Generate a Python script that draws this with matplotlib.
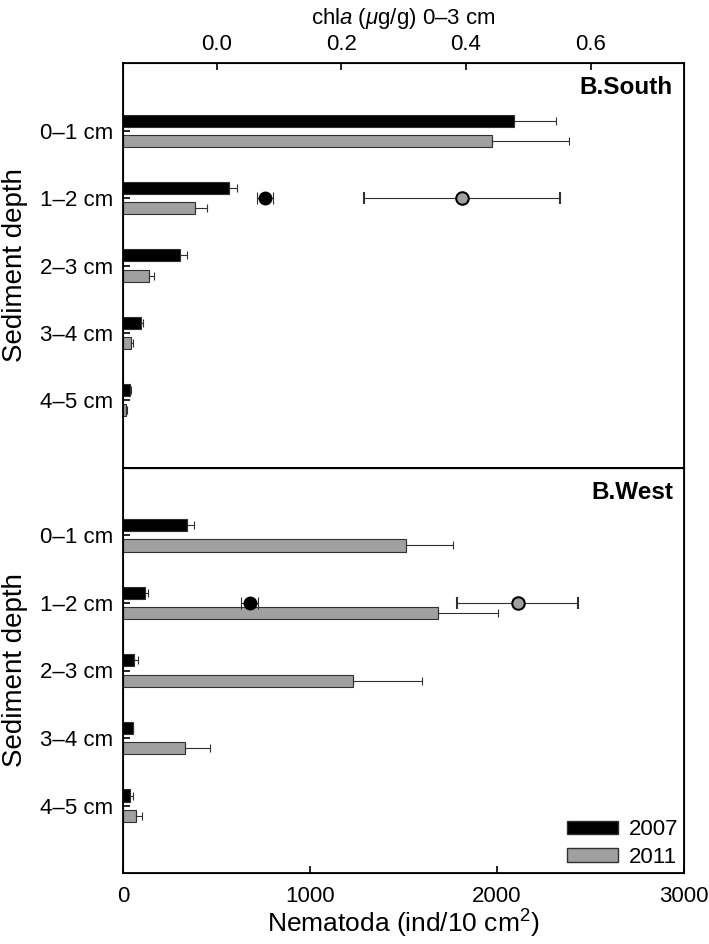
import numpy as np
import matplotlib.pyplot as plt
from matplotlib.patches import Patch

plt.rcParams['font.family'] = ['Liberation Sans', 'DejaVu Sans']
plt.rcParams['mathtext.fontset'] = 'custom'
plt.rcParams['mathtext.rm'] = 'Liberation Sans'
plt.rcParams['mathtext.it'] = 'Liberation Sans:italic'

depths = ['0\u20131 cm', '1\u20132 cm', '2\u20133 cm', '3\u20134 cm', '4\u20135 cm']

# Nematoda density (ind/10 cm2), mean and sd
south_2007 = [2091, 565, 307, 97, 39]
south_2007_sd = [225, 44, 33, 11, 4]
south_2011 = [1975, 383, 139, 44, 18]
south_2011_sd = [412, 66, 27, 9, 3]

west_2007 = [340, 115, 60, 52, 35]
west_2007_sd = [39, 20, 18, 4, 18]
west_2011 = [1514, 1682, 1231, 333, 68]
west_2011_sd = [253, 326, 366, 133, 32]

# chl a (ug/g) 0-3 cm, mean and sd
chla_south = [0.078, 0.394]
chla_south_sd = [0.013, 0.157]
chla_west = [0.053, 0.483]
chla_west_sd = [0.014, 0.097]

c2007 = 'black'
c2011 = '#a0a0a0'
edge = '#303030'
tick_fs = 16
label_fs = 20

fig = plt.figure(figsize=(7.09, 9.44), dpi=100)
L, R = 123 / 709, 684 / 709
ax1 = fig.add_axes([L, 1 - 467.7 / 944, R - L, (467.7 - 63.3) / 944])
ax2 = fig.add_axes([L, 1 - 873.3 / 944, R - L, (873.3 - 467.7) / 944])

y = np.arange(len(depths))
h = 0.18
off = 0.15


def panel(ax, v07, sd07, v11, sd11, chla, chla_sd, name, top_labels):
    zeros = [0] * len(depths)
    ekw = dict(ecolor=edge, elinewidth=0.8, capsize=3.2, capthick=0.8)
    ax.barh(y - off, v07, height=h, color=c2007, edgecolor=edge, linewidth=0.8,
            xerr=[zeros, sd07], error_kw=ekw, label='2007')
    ax.barh(y + off, v11, height=h, color=c2011, edgecolor=edge, linewidth=0.8,
            xerr=[zeros, sd11], error_kw=ekw, label='2011')
    ax.set_xlim(0, 3000)
    ax.set_ylim(5, -1)
    ax.set_yticks(y)
    ax.set_yticklabels(depths, fontsize=tick_fs)
    ax.set_ylabel('Sediment depth', fontsize=label_fs, labelpad=9)
    ax.tick_params(axis='y', direction='in', length=5, width=1.2, pad=7)
    for s in ax.spines.values():
        s.set_linewidth(1.3)
    ax.text(0.98, 0.94, name, transform=ax.transAxes, ha='right', va='center',
            fontsize=17.5, fontweight='bold')

    tw = ax.twiny()
    tw.set_xlim(-0.15, 0.75)
    tw.errorbar(chla[0], 1, xerr=chla_sd[0], fmt='o', color='black', mfc='black', mec='black',
                ms=9, ecolor=edge, elinewidth=0.8, capsize=4.5, capthick=0.8, zorder=5)
    tw.errorbar(chla[1], 1, xerr=chla_sd[1], fmt='o', color=c2011, mfc=c2011, mec='black',
                mew=1.5, ms=9, ecolor=edge, elinewidth=0.8, capsize=4.5, capthick=0.8, zorder=5)
    if top_labels:
        tw.set_xticks([0.0, 0.2, 0.4, 0.6])
        tw.set_xticklabels(['0.0', '0.2', '0.4', '0.6'], fontsize=tick_fs)
        tw.tick_params(axis='x', direction='in', length=5, width=1.2, pad=6)
        tw.set_xlabel(r'chl$\it{a}$ ($\it{\mu}$g/g) 0$\mathrm{\endash}$3 cm', fontsize=tick_fs, labelpad=7)
    else:
        tw.set_xticks([])
    return tw


panel(ax1, south_2007, south_2007_sd, south_2011, south_2011_sd,
      chla_south, chla_south_sd, 'B.South', True)
ax1.set_xticks([])

panel(ax2, west_2007, west_2007_sd, west_2011, west_2011_sd,
      chla_west, chla_west_sd, 'B.West', False)
ax2.set_xticks([0, 1000, 2000, 3000])
ax2.set_xticklabels(['0', '1000', '2000', '3000'], fontsize=tick_fs)
ax2.tick_params(axis='x', direction='in', length=5, width=1.2, pad=9)
ax2.set_xlabel(r'Nematoda (ind/10 cm$^2$)', fontsize=19, labelpad=1)

handles = [Patch(facecolor=c2007, edgecolor=edge, label='2007'),
           Patch(facecolor=c2011, edgecolor=edge, label='2011')]
ax2.legend(handles=handles, loc='lower right', frameon=False, fontsize=tick_fs,
           handlelength=2.3, handleheight=0.55, handletextpad=0.5, labelspacing=0.3,
           borderpad=0.1, borderaxespad=0.15)

fig.savefig('out.png', dpi=100)
